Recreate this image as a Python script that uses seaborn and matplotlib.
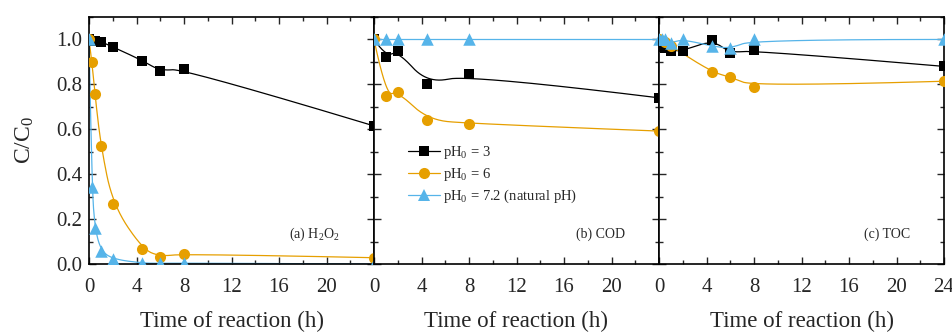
import numpy as np
import pandas as pd
import seaborn as sns
import matplotlib.pyplot as plt
from matplotlib.lines import Line2D
from matplotlib.ticker import MultipleLocator

# --- data (time in h, C/C0) ---
# (a) H2O2
a_t3 = [0, 0.5, 1, 2, 4.5, 6, 8, 24]
a_y3 = [1.0, 0.995, 0.99, 0.967, 0.906, 0.86, 0.87, 0.615]
a_t6 = [0, 0.25, 0.5, 1, 2, 4.5, 6, 8, 24]
a_y6 = [1.0, 0.898, 0.756, 0.527, 0.265, 0.067, 0.033, 0.046, 0.028]
a_t7 = [0, 0.25, 0.5, 1, 2, 4.5, 6, 8, 24]
a_y7 = [1.0, 0.345, 0.16, 0.06, 0.022, 0.004, 0.003, 0.004, 0.0]

# (b) COD
b_t = [0, 1, 2, 4.5, 8, 24]
b_y3 = [1.0, 0.924, 0.948, 0.803, 0.844, 0.74]
b_y6 = [1.0, 0.75, 0.768, 0.643, 0.625, 0.592]
b_y7 = [1.0, 1.0, 1.0, 1.0, 1.0, 1.0]

# (c) TOC
c_t3 = [0, 0.5, 1, 2, 4.5, 6, 8, 24]
c_y3 = [0.965, 0.96, 0.95, 0.95, 0.997, 0.94, 0.952, 0.88]
c_t6 = [0, 0.5, 1, 4.5, 6, 8, 24]
c_y6 = [1.0, 0.99, 0.97, 0.854, 0.833, 0.789, 0.814]
c_t7 = [0, 0.25, 0.5, 1, 2, 4.5, 6, 8, 24]
c_y7 = [1.0, 1.0, 1.0, 0.985, 1.0, 0.97, 0.96, 1.0, 1.0]

labels = ["pH$_0$ = 3", "pH$_0$ = 6", "pH$_0$ = 7.2 (natural pH)"]
titles = ["(a) H$_2$O$_2$", "(b) COD", "(c) TOC"]

panels = [
    [(a_t3, a_y3), (a_t6, a_y6), (a_t7, a_y7)],
    [(b_t, b_y3), (b_t, b_y6), (b_t, b_y7)],
    [(c_t3, c_y3), (c_t6, c_y6), (c_t7, c_y7)],
]

colors = ["black", "#E69F00", "#56B4E9"]
markers = ["s", "o", "^"]
sizes = [7.0, 8.0, 9.0]


def bspline(x, y, n=40):
    # quadratic B-spline using the data points as control points
    p = np.column_stack([x, y]).astype(float)
    m = len(p)
    segs = []
    t = np.linspace(0, 1, n)[:, None]
    for i in range(1, m - 1):
        a = p[0] if i == 1 else (p[i - 1] + p[i]) / 2
        c = p[-1] if i == m - 2 else (p[i] + p[i + 1]) / 2
        segs.append((1 - t) ** 2 * a + 2 * (1 - t) * t * p[i] + t ** 2 * c)
    s = np.vstack(segs)
    return s[:, 0], s[:, 1]


sns.set_theme(style="ticks")
plt.rcParams["font.family"] = ["Liberation Serif", "DejaVu Serif"]
plt.rcParams["mathtext.fontset"] = "custom"
plt.rcParams["mathtext.rm"] = "Liberation Serif"
plt.rcParams["mathtext.it"] = "Liberation Serif:italic"

fig = plt.figure(figsize=(9.52, 3.32), dpi=100)
left, bottom, w, h = 89 / 952, 1 - 264 / 332, 285 / 952, 247 / 332

for k, series in enumerate(panels):
    ax = fig.add_axes([left + k * w, bottom, w, h])
    for j, (t, y) in enumerate(series):
        xs, ys = bspline(t, y)
        curve = pd.DataFrame({"t": xs, "y": ys})
        sns.lineplot(data=curve, x="t", y="y", sort=False, estimator=None,
                     color=colors[j], lw=0.9, ax=ax, zorder=2)
        pts = pd.DataFrame({"t": t, "y": y})
        sns.scatterplot(data=pts, x="t", y="y", marker=markers[j],
                        s=sizes[j] ** 2, color=colors[j], linewidth=0,
                        ax=ax, zorder=3)
    ax.set_xlim(0, 24)
    ax.set_ylim(0, 1.1)
    ax.xaxis.set_major_locator(MultipleLocator(4))
    ax.xaxis.set_minor_locator(MultipleLocator(2))
    ax.yaxis.set_major_locator(MultipleLocator(0.2))
    ax.yaxis.set_minor_locator(MultipleLocator(0.1))
    ticks = list(range(0, 25, 4))
    ax.set_xticks(ticks)
    ax.set_xticklabels([str(v) if (v != 24 or k == 2) else "" for v in ticks])
    ax.tick_params(which="both", direction="in", top=True, right=True,
                   labelsize=15, width=1.0)
    ax.tick_params(axis="x", pad=10)
    ax.tick_params(axis="y", pad=5)
    ax.tick_params(which="major", length=5)
    ax.tick_params(which="minor", length=3)
    for sp in ax.spines.values():
        sp.set_linewidth(1.2)
        sp.set_color("black")
    ax.set_xlabel("Time of reaction (h)", fontsize=16.5, labelpad=10)
    if k == 0:
        ax.set_ylabel("C/C$_0$", fontsize=17, labelpad=14)
        ax.set_yticks(np.arange(0, 1.01, 0.2))
        ax.set_yticklabels([f"{v:.1f}" for v in np.arange(0, 1.01, 0.2)])
    else:
        ax.set_ylabel("")
        ax.tick_params(axis="y", labelleft=False)
    ax.text(0.88, 0.12, titles[k], transform=ax.transAxes, ha="right",
            va="center", fontsize=10)
    if k == 1:
        handles = [Line2D([], [], color=colors[j], marker=markers[j],
                          markersize=sizes[j], markeredgewidth=0, lw=0.9)
                   for j in range(3)]
        ax.legend(handles, labels, loc="upper left",
                  bbox_to_anchor=(0.10, 0.51), frameon=False, fontsize=10.5,
                  handlelength=2.2, handletextpad=0.2, labelspacing=0.35,
                  borderaxespad=0)

fig.savefig("out.png", dpi=100)
